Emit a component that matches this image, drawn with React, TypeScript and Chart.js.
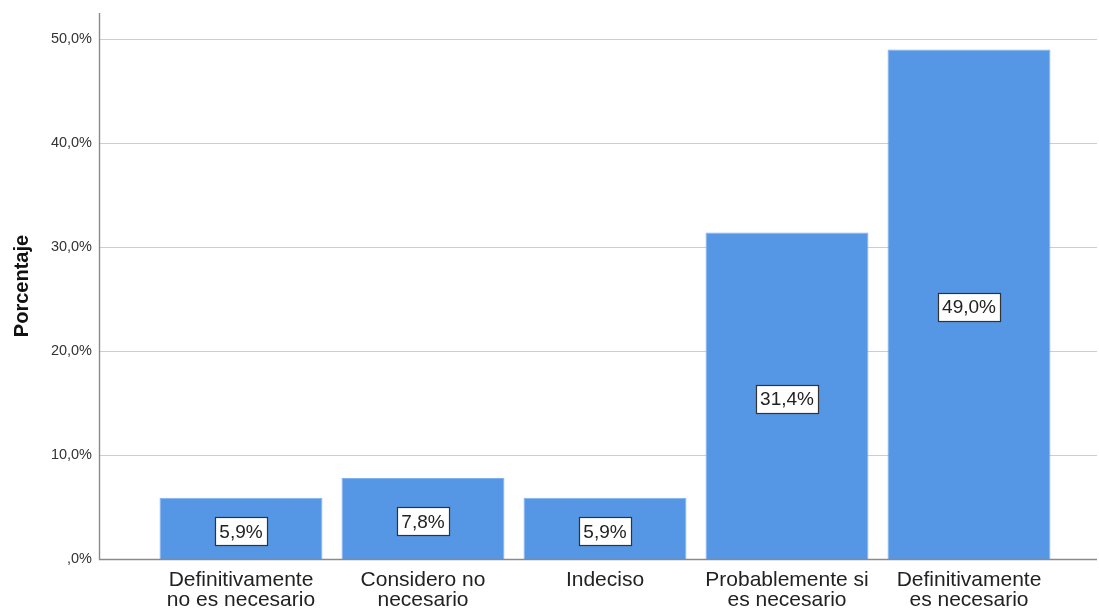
import { useEffect, useRef } from "react";
import { Chart, registerables } from "chart.js";

Chart.register(...registerables);

// Response categories (multi-line tick labels)
const categories: string[][] = [
  ["Definitivamente", "no es necesario"],
  ["Considero no", "necesario"],
  ["Indeciso"],
  ["Probablemente si", "es necesario"],
  ["Definitivamente", "es necesario"],
];

// Share of respondents per category, in percent
const percentages: number[] = [5.9, 7.8, 5.9, 31.4, 49.0];

// Value-axis ticks and range
const yTickValues: number[] = [0, 10, 20, 30, 40, 50];
const yMax = 52.5;

const FONT = "'Liberation Sans', Arial, Helvetica, sans-serif";
const BAR_COLOR = "#5596e5";

// 0 -> ",0%", 31.4 -> "31,4%"
const formatPct = (v: number): string => {
  let s = v.toFixed(1).replace(".", ",");
  if (s.startsWith("0")) s = s.slice(1);
  return s + "%";
};

const framePlugin = {
  id: "spssFrame",
  beforeDatasetsDraw(chart: any) {
    const { ctx, scales } = chart;
    const y = scales.y;
    const left = 99.5;
    const right = chart.width - 2;
    ctx.save();
    ctx.strokeStyle = "#cdcdcd";
    ctx.lineWidth = 1.2;
    y.ticks.forEach((t: any) => {
      if (t.value === 0) return;
      const py = Math.round(y.getPixelForValue(t.value)) + 0.5;
      ctx.beginPath();
      ctx.moveTo(left, py);
      ctx.lineTo(right, py);
      ctx.stroke();
    });
    ctx.restore();
  },
  afterDatasetsDraw(chart: any) {
    const { ctx, scales } = chart;
    const y = scales.y;
    const left = 99.5;
    const right = chart.width - 2;
    const base = Math.round(y.getPixelForValue(0)) + 0.5;
    ctx.save();
    // axis lines
    ctx.strokeStyle = "#8a8a8a";
    ctx.lineWidth = 1.4;
    ctx.beginPath();
    ctx.moveTo(left, y.top);
    ctx.lineTo(left, base);
    ctx.lineTo(right, base);
    ctx.stroke();

    // value boxes in the middle of each bar
    const meta = chart.getDatasetMeta(0);
    ctx.font = `19px ${FONT}`;
    ctx.textAlign = "center";
    ctx.textBaseline = "middle";
    meta.data.forEach((bar: any, i: number) => {
      const label = formatPct(percentages[i]);
      const cx = bar.x;
      const cy = (bar.y + bar.base) / 2 + 3;
      const w = Math.ceil(ctx.measureText(label).width) + 8;
      const h = 28;
      const bx = Math.round(cx - w / 2) + 0.5;
      const by = Math.round(cy - h / 2) + 0.5;
      ctx.fillStyle = "#ffffff";
      ctx.fillRect(bx, by, w, h);
      ctx.strokeStyle = "#333333";
      ctx.lineWidth = 1.2;
      ctx.strokeRect(bx, by, w, h);
      ctx.fillStyle = "#222222";
      ctx.fillText(label, cx, cy + 1);
    });
    ctx.restore();
  },
};

export default function App() {
  const canvasRef = useRef<HTMLCanvasElement | null>(null);

  useEffect(() => {
    if (!canvasRef.current) return;
    const chart = new Chart(canvasRef.current, {
      type: "bar",
      data: {
        labels: categories,
        datasets: [
          {
            data: percentages,
            backgroundColor: BAR_COLOR,
            borderColor: "#7fb0ee",
            borderWidth: 1,
            barPercentage: 0.895,
            categoryPercentage: 1,
          },
        ],
      },
      options: {
        animation: false,
        responsive: true,
        maintainAspectRatio: false,
        layout: { padding: { top: 13, right: 39, left: 0, bottom: 0 } },
        plugins: {
          legend: { display: false },
          tooltip: { enabled: false },
        },
        scales: {
          x: {
            grid: { display: false, drawTicks: false },
            border: { display: false },
            ticks: {
              color: "#222222",
              font: { family: FONT, size: 21, lineHeight: 0.95 },
              padding: 11,
              maxRotation: 0,
              autoSkip: false,
            },
            afterFit(scale: any) {
              scale.height = 54;
              scale.paddingLeft = 0;
              scale.paddingRight = 0;
            },
          },
          y: {
            min: 0,
            max: yMax,
            grid: { display: false, drawTicks: false },
            border: { display: false },
            afterBuildTicks(scale: any) {
              scale.ticks = yTickValues.map((v) => ({ value: v }));
            },
            ticks: {
              color: "#333333",
              font: { family: FONT, size: 14.5 },
              padding: 58,
              includeBounds: false,
              callback: (v: any) => formatPct(Number(v)),
            },
            title: {
              display: true,
              text: "Porcentaje",
              color: "#111111",
              font: { family: FONT, size: 20, weight: "bold" },
              padding: { top: 10, bottom: 0 },
            },
            afterFit(scale: any) {
              scale.width = 150;
              scale.paddingTop = 0;
              scale.paddingBottom = 0;
            },
          },
        },
      },
      plugins: [framePlugin],
    });
    return () => chart.destroy();
  }, []);

  return (
    <div
      style={{
        position: "absolute",
        left: 0,
        top: 0,
        width: 1099,
        height: 613,
        background: "#ffffff",
      }}
    >
      <canvas ref={canvasRef} />
    </div>
  );
}
